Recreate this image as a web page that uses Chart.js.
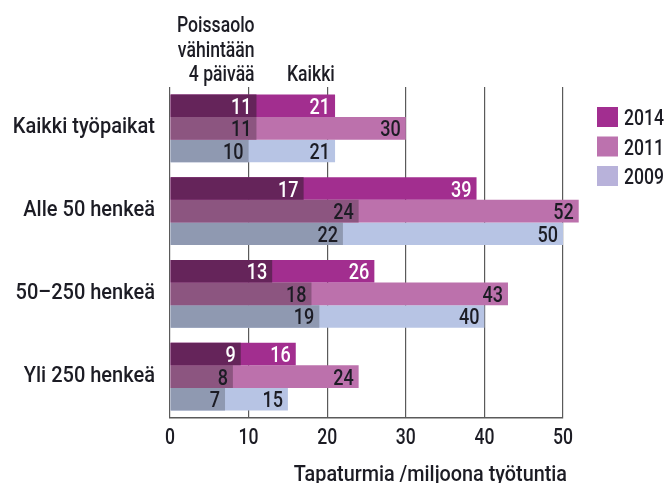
<!DOCTYPE html>
<html>
<head>
<meta charset="utf-8">
<script src="https://cdn.jsdelivr.net/npm/chart.js@4/dist/chart.umd.min.js"></script>
<style>
  body { margin: 0; background: #fff; }
  canvas { display: block; }
</style>
</head>
<body>
<canvas id="chart" width="672" height="483"></canvas>
<script>
const categories = ['Kaikki työpaikat', 'Alle 50 henkeä', '50–250 henkeä', 'Yli 250 henkeä'];
const years = ['2014', '2011', '2009'];

// Kaikki
const kaikki2014 = [21, 39, 26, 16];
const kaikki2011 = [30, 52, 43, 24];
const kaikki2009 = [21, 50, 40, 15];

// Poissaolo vähintään 4 päivää
const poissa2014 = [11, 17, 13, 9];
const poissa2011 = [11, 24, 18, 8];
const poissa2009 = [10, 22, 19, 7];

const xTicks = [0, 10, 20, 30, 40, 50];

const FONT = '500 22px Roboto, "DejaVu Sans", sans-serif';
const TEXT = '#1c1c24';

const mainColors = ['#a22e8f', '#bc71ac', '#b7c4e4'];
const darkColors = ['#65245a', '#8c5580', '#8f99b1'];
const legendColors = ['#a22e90', '#bc72ae', '#b8b2da'];
const labelColors = ['#ffffff', TEXT, TEXT];

const kaikki = [kaikki2014, kaikki2011, kaikki2009];
const poissa = [poissa2014, poissa2011, poissa2009];

// chart.js draws the first dataset on top, so the darker part goes first
const datasets = [];
years.forEach((y, i) => {
    datasets.push({ label: y + ' poissaolo', data: poissa[i], backgroundColor: darkColors[i], stack: y, clip: false, labelColor: labelColors[i] });
});
years.forEach((y, i) => {
    datasets.push({ label: y, data: kaikki[i], backgroundColor: mainColors[i], stack: y, clip: false, labelColor: labelColors[i] });
});

// squeezed text, the original uses a condensed face
function txt(ctx, s, x, y, align, sx) {
    ctx.save();
    ctx.translate(x, y);
    ctx.scale(sx || 0.8, 1);
    ctx.textAlign = align;
    ctx.fillText(s, 0, 0);
    ctx.restore();
}

const extras = {
    id: 'extras',
    afterDatasetsDraw(chart) {
        const ctx = chart.ctx;
        const area = chart.chartArea;
        const xs = chart.scales.x;
        const ys = chart.scales.y;
        ctx.save();
        ctx.font = FONT;
        ctx.textBaseline = 'alphabetic';

        // value labels
        chart.data.datasets.forEach((ds, di) => {
            chart.getDatasetMeta(di).data.forEach((bar, i) => {
                ctx.fillStyle = ds.labelColor;
                txt(ctx, String(ds.data[i]), bar.x - 5, bar.y + 8, 'right', 0.82);
            });
        });

        ctx.fillStyle = TEXT;

        // category labels
        categories.forEach((c, i) => {
            txt(ctx, c, area.left - 15, ys.getPixelForValue(i) + 5, 'right', 0.91);
        });

        // x tick labels
        xTicks.forEach(v => {
            txt(ctx, String(v), xs.getPixelForValue(v), area.bottom + 26, 'center');
        });

        // column headers
        const hx = xs.getPixelForValue(10) + 6;
        txt(ctx, 'Poissaolo', hx, area.top - 55, 'right');
        txt(ctx, 'vähintään', hx, area.top - 30, 'right');
        txt(ctx, '4 päivää', hx, area.top - 6, 'right');
        txt(ctx, 'Kaikki', xs.getPixelForValue(15) - 1, area.top - 6, 'left');

        // axis title
        txt(ctx, 'Tapaturmia /miljoona työtuntia', xs.getPixelForValue(50) + 4, chart.height - 2, 'right', 0.9);

        // legend
        const lx = area.right + 34;
        years.forEach((y, i) => {
            const ly = area.top + 20 + i * 29.5;
            ctx.fillStyle = legendColors[i];
            ctx.fillRect(lx, ly, 21, 20);
            ctx.fillStyle = TEXT;
            txt(ctx, y, lx + 27, ly + 18, 'left');
        });
        ctx.restore();
    }
};

new Chart(document.getElementById('chart'), {
    type: 'bar',
    data: { labels: categories, datasets: datasets },
    options: {
        indexAxis: 'y',
        responsive: false,
        animation: false,
        categoryPercentage: 0.816,
        barPercentage: 1,
        layout: { padding: { top: 87, right: 109, left: 0, bottom: 0 } },
        scales: {
            x: {
                min: 0,
                max: 50,
                stacked: false,
                afterBuildTicks: s => { s.ticks = xTicks.map(v => ({ value: v })); },
                afterFit: s => { s.height = 65; },
                ticks: { display: false },
                grid: { color: '#5a5a5a', lineWidth: 1.2, drawTicks: false },
                border: { color: '#5a5a5a', width: 1.5 }
            },
            y: {
                afterFit: s => { s.width = 170; },
                ticks: { display: false },
                grid: { display: false },
                border: { display: false }
            }
        },
        plugins: { legend: { display: false }, tooltip: { enabled: false } }
    },
    plugins: [extras]
});
</script>
</body>
</html>
